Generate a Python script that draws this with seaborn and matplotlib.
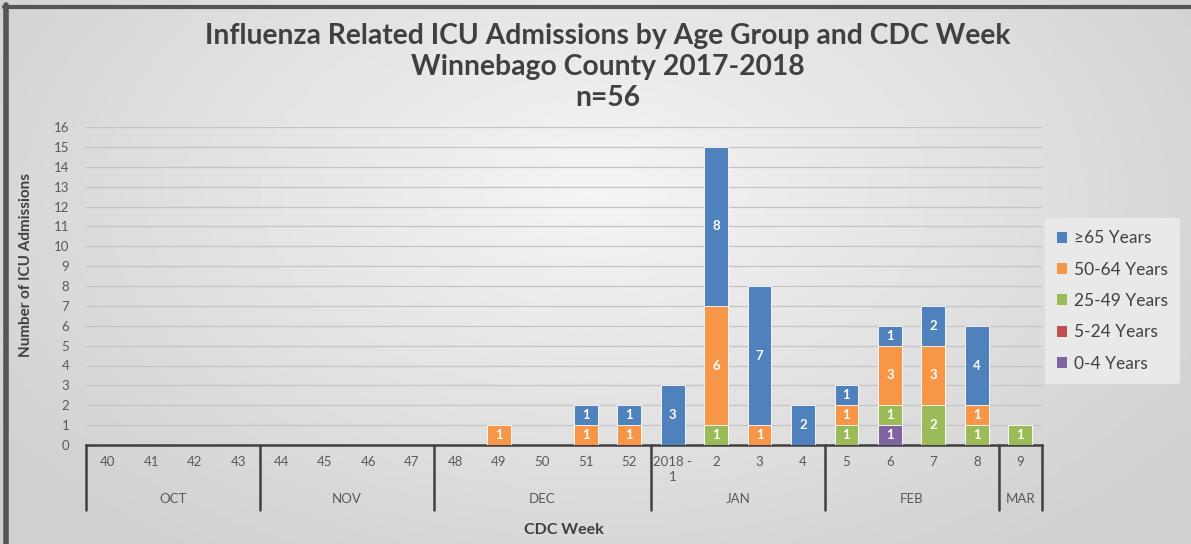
import numpy as np
import pandas as pd
import matplotlib.pyplot as plt
import seaborn as sns
from matplotlib.patches import Patch
from matplotlib.lines import Line2D

# CDC weeks and month groups
weeks = ["40", "41", "42", "43", "44", "45", "46", "47", "48", "49", "50", "51", "52",
         "2018 -\n1", "2", "3", "4", "5", "6", "7", "8", "9"]
months = ["OCT", "NOV", "DEC", "JAN", "FEB", "MAR"]
month_sizes = [4, 4, 5, 4, 4, 1]

# ICU admissions per age group (stack order bottom -> top)
age_0_4 = [0, 0, 0, 0, 0, 0, 0, 0, 0, 0, 0, 0, 0, 0, 0, 0, 0, 0, 1, 0, 0, 0]
age_5_24 = [0, 0, 0, 0, 0, 0, 0, 0, 0, 0, 0, 0, 0, 0, 0, 0, 0, 0, 0, 0, 0, 0]
age_25_49 = [0, 0, 0, 0, 0, 0, 0, 0, 0, 0, 0, 0, 0, 0, 1, 0, 0, 1, 1, 2, 1, 1]
age_50_64 = [0, 0, 0, 0, 0, 0, 0, 0, 0, 1, 0, 1, 1, 0, 6, 1, 0, 1, 3, 3, 1, 0]
age_65 = [0, 0, 0, 0, 0, 0, 0, 0, 0, 0, 0, 1, 1, 3, 8, 7, 2, 1, 1, 2, 4, 0]

groups = ["0-4 Years", "5-24 Years", "25-49 Years", "50-64 Years", "\u226565 Years"]
series = [age_0_4, age_5_24, age_25_49, age_50_64, age_65]
colors = ["#8064A2", "#C0504D", "#9BBB59", "#F79646", "#4F81BD"]

df = pd.DataFrame({g: s for g, s in zip(groups, series)}, index=weeks)
cum = df.cumsum(axis=1)

sns.set_style("white")
plt.rcParams["font.family"] = ["Lato", "DejaVu Sans"]

fig = plt.figure(figsize=(11.91, 5.44), dpi=100)

# soft gray gradient background
bg = fig.add_axes([0, 0, 1, 1], zorder=-10)
yy, xx = np.mgrid[0:1:200j, 0:1:400j]
r = np.sqrt(((xx - 0.5) / 0.6) ** 2 + ((yy - 0.35) / 0.8) ** 2)
bg.imshow(0.96 - 0.14 * np.clip(r, 0, 1), cmap="gray", vmin=0, vmax=1,
          aspect="auto", extent=[0, 1, 0, 1])
bg.axis("off")
fig.add_artist(Line2D([0.005, 0.005], [0, 0.99], transform=fig.transFigure,
                      color="#555555", lw=4))
fig.add_artist(Line2D([0.003, 1], [0.988, 0.988], transform=fig.transFigure,
                      color="#555555", lw=3))

ax = fig.add_axes([86 / 1191, 1 - 445 / 544, (1042 - 86) / 1191, (445 - 127) / 544])
ax.set_facecolor("none")

# overlay cumulative bars, tallest layer first
for g, c in reversed(list(zip(groups, colors))):
    layer = pd.DataFrame({"week": weeks, "value": cum[g].values})
    sns.barplot(data=layer, x="week", y="value", order=weeks, color=c,
                saturation=1, width=0.55, errorbar=None, ax=ax,
                edgecolor="white", linewidth=0.6, zorder=3)

# segment value labels
for i, w in enumerate(weeks):
    base = 0
    for g in groups:
        v = df.loc[w, g]
        if v > 0:
            ax.text(i, base + v / 2, str(v), ha="center", va="center",
                    color="white", fontsize=9.5, fontweight="bold", zorder=5)
        base += v

ax.set_xlim(-0.5, len(weeks) - 0.5)
ax.set_ylim(0, 16)
ax.set_yticks(range(0, 17))
ax.yaxis.grid(True, color="#c4c4c4", lw=0.9, zorder=0)
ax.set_axisbelow(True)
for s in ["top", "right", "left"]:
    ax.spines[s].set_visible(False)
ax.spines["bottom"].set_color("#404040")
ax.spines["bottom"].set_linewidth(1.8)
ax.tick_params(axis="both", length=0, labelsize=9.5, labelcolor="#595959")
ax.tick_params(axis="x", pad=8)
ax.tick_params(axis="y", pad=12)
for lbl in ax.get_xticklabels():
    lbl.set_va("top")
    lbl.set_linespacing(1.3)

# month group separators and labels
bounds = np.concatenate([[0], np.cumsum(month_sizes)]) - 0.5
for b in bounds:
    ax.plot([b, b], [0, -0.205], transform=ax.get_xaxis_transform(),
            color="#404040", lw=1.8, clip_on=False)
for m, lo, hi in zip(months, bounds[:-1], bounds[1:]):
    ax.text((lo + hi) / 2, -0.17, m, transform=ax.get_xaxis_transform(),
            ha="center", va="center", fontsize=9.5, color="#595959")

ax.set_xlabel("")
ax.set_ylabel("Number of ICU Admissions", fontsize=11, fontweight="bold", color="#404040")
ax.yaxis.set_label_coords(-0.055, 0.566)
ax.text(0.5, -0.267, "CDC Week", transform=ax.transAxes, ha="center", va="center",
        fontsize=11.5, fontweight="bold", color="#404040")

# titles
title_lines = ["Influenza Related ICU Admissions by Age Group and CDC Week",
               "Winnebago County 2017-2018", "n=56"]
for t, y in zip(title_lines, [36, 67, 98]):
    fig.text(608 / 1191, 1 - y / 544, t, ha="center", va="center",
             fontsize=20.3, fontweight="bold", color="#404040")

handles = [Patch(facecolor=c, edgecolor="none") for c in reversed(colors)]
leg = fig.legend(handles, list(reversed(groups)), loc="center left",
                 bbox_to_anchor=(1036 / 1191, 1 - 301 / 544), frameon=True,
                 fontsize=12.5, labelspacing=0.88, handlelength=0.6,
                 handleheight=0.6, handletextpad=0.4, borderpad=0.7,
                 facecolor="#e9e9e9", edgecolor="none", framealpha=1)
for t in leg.get_texts():
    t.set_color("#404040")

fig.savefig("out.png", dpi=100)
